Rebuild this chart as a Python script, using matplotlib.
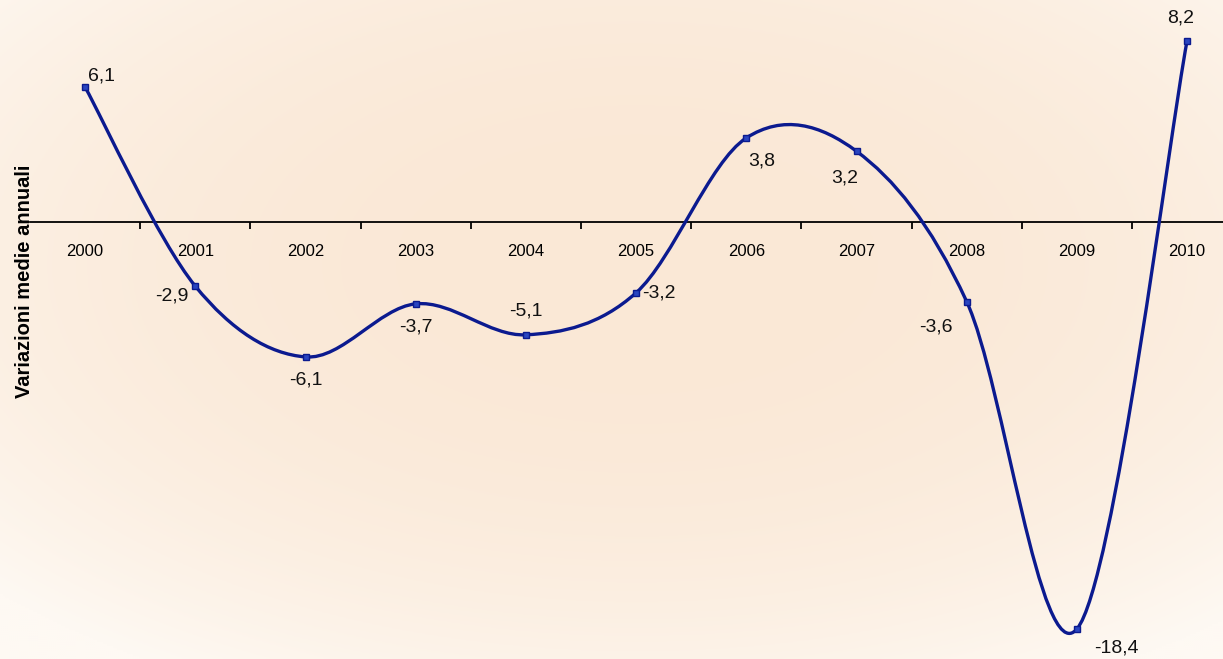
import numpy as np
import matplotlib
matplotlib.use("Agg")
import matplotlib.pyplot as plt
from matplotlib.path import Path
from matplotlib.patches import PathPatch

plt.rcParams['font.family'] = ['Liberation Sans', 'DejaVu Sans']

years = ['2000', '2001', '2002', '2003', '2004', '2005',
         '2006', '2007', '2008', '2009', '2010']
values = [6.1, -2.9, -6.1, -3.7, -5.1, -3.2, 3.8, 3.2, -3.6, -18.4, 8.2]

# label offsets in pixels (dx, dy) relative to each point
label_offsets = [(16, 11), (-23, -10), (0, -23), (0, -23), (0, 24), (23, 0),
                 (15, -23), (-12, -27), (-31, -25), (39, -19), (-6, 23)]

line_col = '#0b1a8f'

fig = plt.figure(figsize=(12.23, 6.59), dpi=100)

# soft radial background gradient
bg = fig.add_axes([0, 0, 1, 1])
bg.set_axis_off()
h, w = 330, 612
yy, xx = np.mgrid[0:h, 0:w]
r = np.sqrt(((xx / w - 0.52) / 0.72) ** 2 + ((yy / h - 0.4) / 0.72) ** 2)
r = np.clip(r, 0, 1) ** 2.6
c0 = np.array([250, 232, 214]) / 255.0
c1 = np.array([254, 249, 243]) / 255.0
img = c0[None, None, :] + (c1 - c0)[None, None, :] * r[:, :, None]
bg.imshow(img, aspect='auto', extent=[0, 1, 0, 1], origin='upper')
bg.set_xlim(0, 1)
bg.set_ylim(0, 1)

ax = fig.add_axes([30 / 1223, 0, 11 * 110.2 / 1223, 1])
ax.patch.set_alpha(0)
x = np.arange(len(values))
y = np.array(values, dtype=float)

# Excel-like smoothed line: cubic Bezier segments (Catmull-Rom, tension 1/6)
pts = np.column_stack([x, y])
ext = np.vstack([pts[0], pts, pts[-1]])
verts = [tuple(pts[0])]
codes = [Path.MOVETO]
for i in range(len(pts) - 1):
    p0, p1, p2, p3 = ext[i], ext[i + 1], ext[i + 2], ext[i + 3]
    c1p = p1 + (p2 - p0) / 6.0
    c2p = p2 - (p3 - p1) / 6.0
    verts += [tuple(c1p), tuple(c2p), tuple(p2)]
    codes += [Path.CURVE4, Path.CURVE4, Path.CURVE4]
ax.add_patch(PathPatch(Path(verts, codes), facecolor='none',
                       edgecolor=line_col, lw=2.4, zorder=3, capstyle='round'))
ax.plot(x, y, linestyle='none', marker='s', markersize=4.5,
        mfc='#2a45c0', mec=line_col, mew=1.0, zorder=4)

for xi, yi, off in zip(x, y, label_offsets):
    ax.annotate(f"{yi:.1f}".replace('.', ','), (xi, yi), xytext=off,
                textcoords='offset pixels', ha='center', va='center',
                fontsize=14, color='#111111', zorder=5)

ax.set_xlim(-0.5, 10.5)
ax.set_ylim(-(659 - 222) / 22.12, 222 / 22.12)

for s in ['top', 'right', 'left']:
    ax.spines[s].set_visible(False)
ax.spines['bottom'].set_position(('data', 0))
ax.spines['bottom'].set_linewidth(1.3)
ax.set_yticks([])
ax.set_xticks(x)
ax.set_xticklabels(years, fontsize=12)
ax.set_xticks(np.arange(0.5, 10.5, 1.0), minor=True)
ax.tick_params(axis='x', which='major', length=0, pad=15.5)
ax.tick_params(axis='x', which='minor', length=5, width=1.3, direction='out')

fig.text(25 / 1223, 1 - 281 / 659, 'Variazioni medie annuali', rotation=90,
         ha='center', va='center', fontsize=14.5, fontweight='bold')

fig.savefig('out.png', dpi=100)
